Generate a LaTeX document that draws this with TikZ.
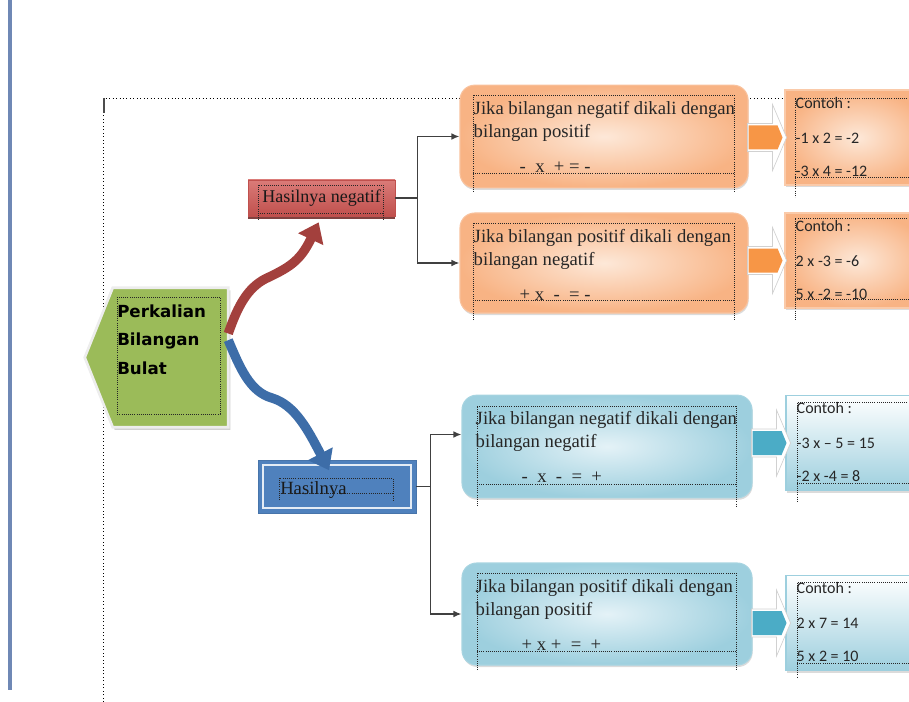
\documentclass[tikz,border=0pt]{standalone}
\usepackage{fontspec}
\setmainfont{Liberation Serif}
\newfontfamily\contohfont{Carlito}
\newfontfamily\judulfont{DejaVu Sans}
\usetikzlibrary{arrows.meta,calc,shadows}

\definecolor{hijau}{HTML}{9BBB59}
\definecolor{merahA}{HTML}{DA7B78}
\definecolor{merahB}{HTML}{C0504D}
\definecolor{merahC}{HTML}{A3403D}
\definecolor{biruA}{HTML}{4F81BD}
\definecolor{biruC}{HTML}{3D6DA8}
\definecolor{oranyeA}{HTML}{F79646}
\definecolor{oranyeD}{HTML}{F8B384}
\definecolor{oranyeL}{HTML}{FDE8D8}
\definecolor{tosca}{HTML}{4BACC6}
\definecolor{toscaD}{HTML}{9DCFDE}
\definecolor{toscaL}{HTML}{E4F2F7}
\definecolor{garis}{HTML}{6F88B5}

\begin{document}
\begin{tikzpicture}[x=0.75pt, y=-0.75pt,
  txt/.style={font=\fontsize{14}{16}\selectfont, text=black!85, inner sep=0pt, anchor=base west},
  ctxt/.style={font=\contohfont\fontsize{12}{14}\selectfont, text=black!85, inner sep=0pt, anchor=base west},
  judul/.style={font=\judulfont\bfseries\fontsize{12.5}{15}\selectfont, inner sep=0pt, anchor=base west},
  rulebox/.style={rounded corners=11pt, minimum width=216pt, minimum height=77pt, line width=0.8pt,
    drop shadow={shadow xshift=0.5pt, shadow yshift=-1.5pt, fill=black!40, opacity=0.35}},
  oranye/.style={rulebox, inner color=oranyeL, outer color=oranyeD, draw=oranyeD!80},
  biru/.style={rulebox, inner color=toscaL, outer color=toscaD, draw=toscaD!90},
  contoh/.style={minimum width=108.75pt, minimum height=71.25pt, line width=0.8pt,
    drop shadow={shadow xshift=1pt, shadow yshift=-1.5pt, fill=black!40, opacity=0.35}},
  conn/.style={-{Latex[length=6pt,width=5pt]}, line width=1.1pt, black!75},
  tframe/.style={densely dotted, line width=0.6pt, black!85},
  pita/.style={line width=7pt, -{Triangle[length=14pt,width=20pt]}},
]
\useasboundingbox (0,0) rectangle (909,702);
\clip (0,0) rectangle (909,702);

% page edge and outer text frame
\draw[garis, line width=2.3pt] (10,0) -- (10,690);
\draw[dotted, line width=0.6pt] (103,702) -- (103,98) -- (909,98);
\draw[line width=1pt, black!70] (104,98) -- (104,113);

% main shape
\node[minimum width=86.25pt, minimum height=104.25pt] (main) at (170.5,357.5) {};
\filldraw[fill=hijau, draw=black!7, line width=2pt,
  drop shadow={shadow xshift=1.5pt, shadow yshift=-2pt, fill=black!45, opacity=0.4}]
  (main.north west) -- (main.north east) -- (main.south east) -- (main.south west)
  -- ([xshift=-21pt]main.west) -- cycle;

% result boxes
\node[draw=merahB, top color=merahA, bottom color=merahB, minimum width=110.25pt, minimum height=27pt,
  font=\fontsize{13.5}{16}\selectfont, text=black!90,
  drop shadow={shadow xshift=0pt, shadow yshift=-2pt, fill=merahC!70!black, opacity=0.9}]
  (neg) at (321.5,198) {Hasilnya negatif};
\node[fill=biruA, draw=biruA!90!black, line width=0.6pt, minimum width=118.5pt, minimum height=39.75pt]
  (pos) at (337,486.5) {};
\draw[white!85!biruA, line width=1.3pt] ([shift={(4pt,-4pt)}]pos.north west) rectangle ([shift={(-4pt,4pt)}]pos.south east);
\node[txt, text=black!90] (tpos) at (280,494) {Hasilnya};

% rule boxes
\node[oranye] (b1) at (604,136.5) {};
\node[oranye, minimum height=75pt] (b2) at (604,263) {};
\node[biru, minimum width=217.5pt] (b3) at (607,446.5) {};
\node[biru, minimum width=217.5pt, minimum height=76.5pt] (b4) at (607,614) {};

% example boxes
\node[contoh, inner color=oranyeL, outer color=oranyeD, draw=oranyeD!70] (c1) at (857.5,137.5) {};
\node[contoh, inner color=oranyeL, outer color=oranyeD, draw=oranyeD!70] (c2) at (857.5,260.5) {};
\node[contoh, top color=white, bottom color=toscaD, draw=toscaD] (c3) at (858.5,443) {};
\node[contoh, top color=white, bottom color=toscaD, draw=toscaD] (c4) at (858.5,623) {};

% connectors
\draw[conn] (neg.east) -- ++(22,0) |- (b1.west);
\draw[conn] (neg.east) -- ++(22,0) |- (b2.west);
\draw[conn] (pos.east) -- ++(14,0) |- ([yshift=9pt]b3.west);
\draw[conn] (pos.east) -- ++(14,0) |- (b4.west);

% block arrows
\foreach \b/\c/\w in {b1/c1/oranyeA, b2/c2/oranyeA, b3/c3/tosca, b4/c4/tosca} {
  \path (\b.east |- \c.west) coordinate (s);
  \filldraw[fill=white, draw=black!18, line width=0.5pt] ($(s)+(-1,-14)$) -- ($(s)+(24,-14)$) -- ($(s)+(24,-33)$)
    -- ($(s)+(38,0)$) -- ($(s)+(24,33)$) -- ($(s)+(24,14)$) -- ($(s)+(-1,14)$) -- cycle;
  \fill[\w] ($(s)+(0,-12)$) -- ($(s)+(29,-12)$) -- ($(s)+(34,0)$) -- ($(s)+(29,12)$) -- ($(s)+(0,12)$) -- cycle;
}

% texts
\node[judul] (j1) at (117,317) {Perkalian};
\node[judul] (j2) at (117,345) {Bilangan};
\node[judul] (j3) at (117,374) {Bulat};
\foreach \b/\la/\lb/\lc in {b1/{Jika bilangan negatif dikali dengan}/{bilangan positif}/{-\ \ x\ \ + = -},
  b2/{Jika bilangan positif dikali dengan}/{bilangan negatif}/{+ x\ \ -\ \ = -},
  b3/{Jika bilangan negatif dikali dengan}/{bilangan negatif}/{-\ \ x\ \ -\ \ =\ \ +},
  b4/{Jika bilangan positif dikali dengan}/{bilangan positif}/{+ x +\ \ =\ \ +}} {
  \node[txt] (\b-1) at ($(\b.north west)+(14,30)$) {\la};
  \node[txt] (\b-2) at ($(\b.north west)+(14,53)$) {\lb};
  \node[txt] (\b-3) at ($(\b.north west)+(60,88)$) {\lc};
}
\foreach \c/\la/\lb in {c1/{-1 x 2 = -2}/{-3 x 4 = -12}, c2/{2 x -3 = -6}/{5 x -2 = -10},
  c3/{-3 x – 5 = 15}/{-2 x -4 = 8}, c4/{2 x 7 = 14}/{5 x 2 = 10}} {
  \node[ctxt] (\c-0) at ($(\c.north west)+(11,19)$) {Contoh :};
  \node[ctxt] (\c-1) at ($(\c.north west)+(11,54)$) {\la};
  \node[ctxt] (\c-2) at ($(\c.north west)+(11,87)$) {\lb};
}

% text frames
\foreach \xa/\ya/\xb/\yb/\yc in {473/95/734/173/192, 473/223/734/300/320, 477/406/736/484/506,
  477/573/736/651/670, 258/185/383/213/220, 279/478/393/493/500}
  \draw[tframe] (\xa,\yc) -- (\xa,\ya) -- (\xb,\ya) -- (\xb,\yc) (\xa,\yb) -- (\xb,\yb);
\draw[tframe] (117,297) rectangle (220,414);
\foreach \xa/\ya/\yb/\yc in {795/98/177/197, 795/218/299/320, 797/402/483/502, 797/582/663/678}
  \draw[tframe] (920,\ya) -- (\xa,\ya) -- (\xa,\yc) (\xa,\yb) -- (920,\yb);

% ribbons
\draw[pita, merahC, shorten >=5pt] ([yshift=18pt]main.east) .. controls (238,305) and (248,288) .. (265,279)
  .. controls (288,268) and (300,262) .. (neg.south);
\draw[pita, biruC] ([yshift=13pt]main.east) .. controls (240,368) and (250,392) .. (272,398)
  .. controls (295,405) and (308,430) .. ([xshift=-6pt,yshift=-8pt]pos.north);
\end{tikzpicture}
\end{document}
